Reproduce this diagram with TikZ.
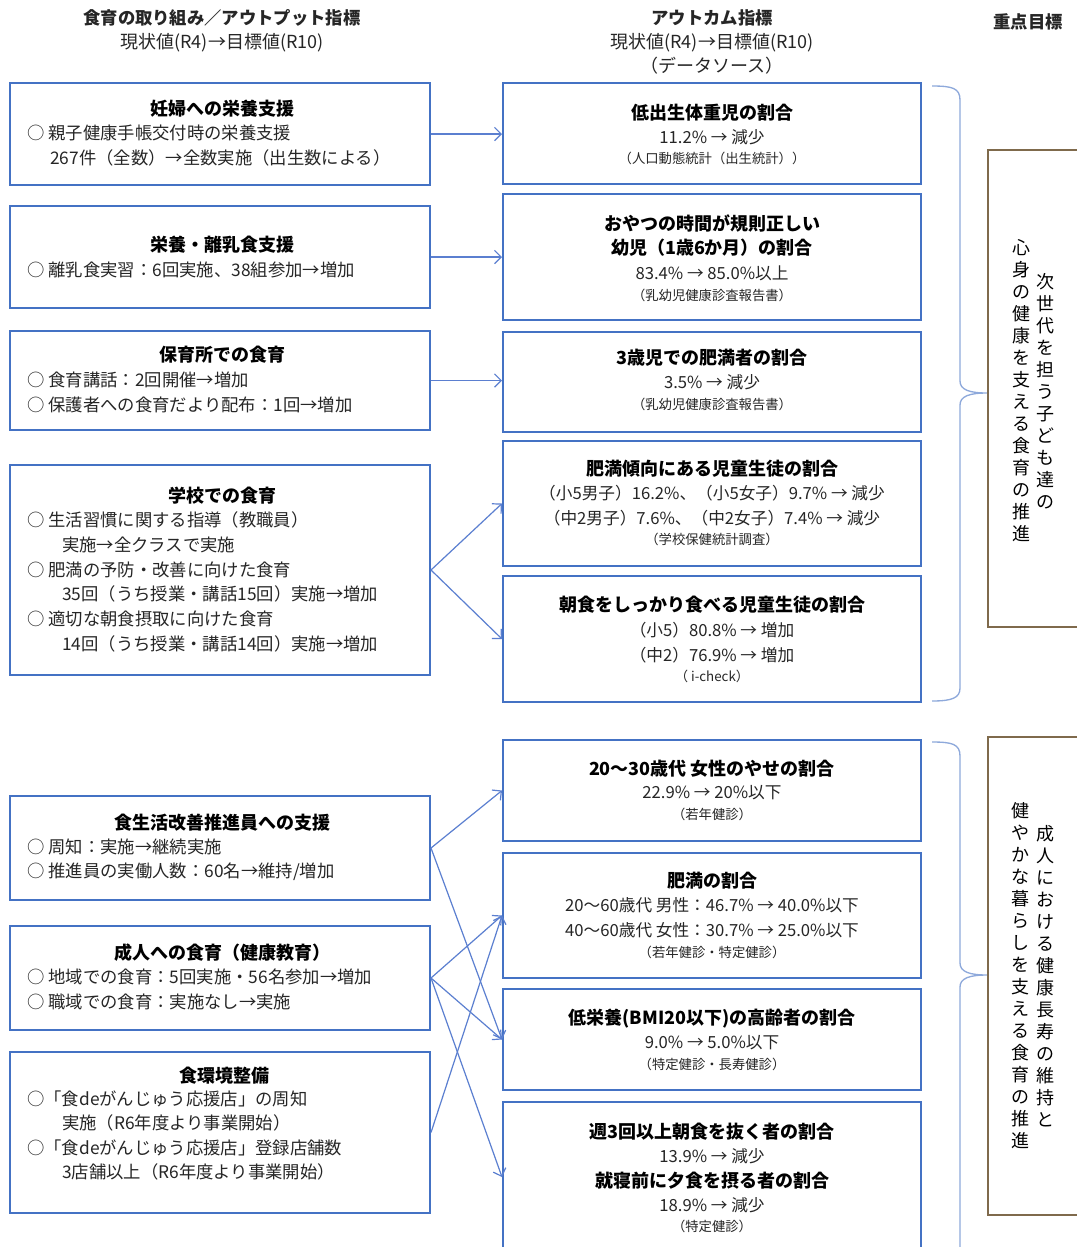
\documentclass[tikz,border=0pt]{standalone}
\usepackage{fontspec}
\setmainfont{Noto Sans CJK JP}
\usetikzlibrary{arrows.meta}
\definecolor{boxblue}{HTML}{4472C4}
\definecolor{arrblue}{HTML}{5B7FD0}
\definecolor{braceblue}{HTML}{8EA9DB}
\definecolor{goalbrown}{HTML}{7F6A4C}
\definecolor{txt}{HTML}{262626}
\tikzset{
 box/.style={draw=boxblue, line width=1.5pt, rectangle, inner sep=0pt, fill=white},
 goalbox/.style={draw=goalbrown, line width=1.5pt, rectangle, inner sep=0pt},
 conn/.style={draw=arrblue, line width=0.9pt, -{Straight Barb[length=5pt,width=10pt]}},
 brace/.style={draw=braceblue, line width=1pt},
 hdr/.style={inner sep=0pt, font=\bfseries\fontsize{13}{14}\selectfont, text=txt},
 hsub/.style={inner sep=0pt, font=\fontsize{13.5}{14}\selectfont, text=txt},
 ttl/.style={inner sep=0pt, font=\bfseries\fontsize{13.5}{14}\selectfont, text=black},
 bod/.style={inner sep=0pt, anchor=west, font=\fontsize{13}{14}\selectfont, text=txt},
 val/.style={inner sep=0pt, font=\fontsize{12.5}{14}\selectfont, text=txt},
 src/.style={inner sep=0pt, font=\fontsize{10}{11}\selectfont, text=txt},
 vert/.style={inner sep=0pt, align=center, font=\fontsize{13.5}{16.5}\selectfont, text=black},
}
\newcommand\mkbox[6]{\node[#1, minimum width={(#5-#3)*0.75pt}, minimum height={(#6-#4)*0.75pt}] (#2) at ({(#3+#5)/2},{(#4+#6)/2}) {};}
\begin{document}
\begin{tikzpicture}[x=0.75pt,y=-0.75pt]
\useasboundingbox[fill=white] (0,0) rectangle (1076,1247);

% headers
\node[hdr] (h1) at (222,18) {食育の取り組み／アウトプット指標};
\node[hsub] (h1s) at (222,43) {現状値(R4)→目標値(R10)};
\node[hdr] (h2) at (712,18) {アウトカム指標};
\node[hsub] (h2s) at (712,43) {現状値(R4)→目標値(R10)};
\node[hsub] (h2d) at (712,66) {（データソース）};
\node[hdr] (h3) at (1028,22) {重点目標};

% braces
\draw[brace] (932,86) .. controls (952,86) and (960,88) .. (960,100) -- (960,381) .. controls (960,390) and (970,393) .. (987,393) .. controls (970,393) and (960,396) .. (960,405) -- (960,688) .. controls (960,698) and (952,701) .. (932,701);
\draw[brace] (932,742) .. controls (952,742) and (960,744) .. (960,756) -- (960,963) .. controls (960,972) and (970,975) .. (987,975) .. controls (970,975) and (960,978) .. (960,987) -- (960,1250);

% goal boxes
\mkbox{goalbox}{G1}{988}{150}{1085}{627}
\mkbox{goalbox}{G2}{988}{737}{1085}{1215}
\node[vert] (g1a) at (1045,391) {次\\世\\代\\を\\担\\う\\子\\ど\\も\\達\\の};
\node[vert] (g1b) at (1021,391) {心\\身\\の\\健\\康\\を\\支\\え\\る\\食\\育\\の\\推\\進};
\node[vert] (g2a) at (1045,976) {成\\人\\に\\お\\け\\る\\健\\康\\長\\寿\\の\\維\\持\\と};
\node[vert] (g2b) at (1020,976) {健\\や\\か\\な\\暮\\ら\\し\\を\\支\\え\\る\\食\\育\\の\\推\\進};

% left boxes
\mkbox{box}{L1}{10}{83}{430}{185}
\mkbox{box}{L2}{10}{206}{430}{308}
\mkbox{box}{L3}{10}{331}{430}{430}
\mkbox{box}{L4}{10}{465}{430}{675}
\mkbox{box}{L5}{10}{796}{430}{900}
\mkbox{box}{L6}{10}{926}{430}{1030}
\mkbox{box}{L7}{10}{1052}{430}{1213}

% right boxes
\mkbox{box}{R1}{503}{83}{921}{184}
\mkbox{box}{R2}{503}{194}{921}{320}
\mkbox{box}{R3}{503}{332}{921}{432}
\mkbox{box}{R4}{503}{441}{921}{566}
\mkbox{box}{R5}{503}{576}{921}{702}
\mkbox{box}{R6}{503}{740}{921}{841}
\mkbox{box}{R7}{503}{853}{921}{978}
\mkbox{box}{R8}{503}{989}{921}{1090}
\mkbox{box}{R9}{503}{1102}{921}{1252}

% left texts
\node[ttl] (l1t) at (222,109) {妊婦への栄養支援};
\node[bod] (l1a) at (27,133) {○ 親子健康手帳交付時の栄養支援};
\node[bod] (l1b) at (50,158) {267件（全数）→全数実施（出生数による）};

\node[ttl] (l2t) at (222,245) {栄養・離乳食支援};
\node[bod] (l2a) at (27,270) {○ 離乳食実習：6回実施、38組参加→増加};

\node[ttl] (l3t) at (222,355) {保育所での食育};
\node[bod] (l3a) at (27,380) {○ 食育講話：2回開催→増加};
\node[bod] (l3b) at (27,405) {○ 保護者への食育だより配布：1回→増加};

\node[ttl] (l4t) at (222,496) {学校での食育};
\node[bod] (l4a) at (27,520) {○ 生活習慣に関する指導（教職員）};
\node[bod] (l4b) at (62,545) {実施→全クラスで実施};
\node[bod] (l4c) at (27,570) {○ 肥満の予防・改善に向けた食育};
\node[bod] (l4d) at (62,594) {35回（うち授業・講話15回）実施→増加};
\node[bod] (l4e) at (27,619) {○ 適切な朝食摂取に向けた食育};
\node[bod] (l4f) at (62,644) {14回（うち授業・講話14回）実施→増加};

\node[ttl] (l5t) at (222,823) {食生活改善推進員への支援};
\node[bod] (l5a) at (27,847) {○ 周知：実施→継続実施};
\node[bod] (l5b) at (27,872) {○ 推進員の実働人数：60名→維持/増加};

\node[ttl] (l6t) at (222,953) {成人への食育（健康教育）};
\node[bod] (l6a) at (27,977) {○ 地域での食育：5回実施・56名参加→増加};
\node[bod] (l6b) at (27,1002) {○ 職域での食育：実施なし→実施};

\node[ttl] (l7t) at (224,1076) {食環境整備};
\node[bod] (l7a) at (27,1099) {○「食deがんじゅう応援店」の周知};
\node[bod] (l7b) at (62,1123) {実施（R6年度より事業開始）};
\node[bod] (l7c) at (27,1148) {○「食deがんじゅう応援店」登録店舗数};
\node[bod] (l7d) at (62,1172) {3店舗以上（R6年度より事業開始）};

% right texts
\node[ttl] (r1t) at (712,113) {低出生体重児の割合};
\node[val] (r1a) at (712,137) {11.2\% → 減少};
\node[src] (r1s) at (712,158) {（人口動態統計（出生統計））};

\node[ttl] (r2t) at (712,223) {おやつの時間が規則正しい};
\node[ttl] (r2u) at (712,248) {幼児（1歳6か月）の割合};
\node[val] (r2a) at (712,273) {83.4\% → 85.0\%以上};
\node[src] (r2s) at (712,295) {（乳幼児健康診査報告書）};

\node[ttl] (r3t) at (712,358) {3歳児での肥満者の割合};
\node[val] (r3a) at (712,382) {3.5\% → 減少};
\node[src] (r3s) at (712,404) {（乳幼児健康診査報告書）};

\node[ttl] (r4t) at (712,469) {肥満傾向にある児童生徒の割合};
\node[val] (r4a) at (712,493) {（小5男子）16.2\%、（小5女子）9.7\% → 減少};
\node[val] (r4b) at (712,518) {（中2男子）7.6\%、（中2女子）7.4\% → 減少};
\node[src] (r4s) at (712,539) {（学校保健統計調査）};

\node[ttl] (r5t) at (712,605) {朝食をしっかり食べる児童生徒の割合};
\node[val] (r5a) at (712,630) {（小5）80.8\% → 増加};
\node[val] (r5b) at (712,655) {（中2）76.9\% → 増加};
\node[src] (r5s) at (712,676) {（ i-check）};

\node[ttl] (r6t) at (712,769) {20～30歳代 女性のやせの割合};
\node[val] (r6a) at (712,793) {22.9\% → 20\%以下};
\node[src] (r6s) at (712,814) {（若年健診）};

\node[ttl] (r7t) at (712,881) {肥満の割合};
\node[val] (r7a) at (712,905) {20～60歳代 男性：46.7\% → 40.0\%以下};
\node[val] (r7b) at (712,930) {40～60歳代 女性：30.7\% → 25.0\%以下};
\node[src] (r7s) at (712,952) {（若年健診・特定健診）};

\node[ttl] (r8t) at (712,1019) {低栄養(BMI20以下)の高齢者の割合};
\node[val] (r8a) at (712,1043) {9.0\% → 5.0\%以下};
\node[src] (r8s) at (712,1064) {（特定健診・長寿健診）};

\node[ttl] (r9t) at (712,1132) {週3回以上朝食を抜く者の割合};
\node[val] (r9a) at (712,1156) {13.9\% → 減少};
\node[ttl] (r9u) at (712,1181) {就寝前に夕食を摂る者の割合};
\node[val] (r9b) at (712,1205) {18.9\% → 減少};
\node[src] (r9s) at (712,1226) {（特定健診）};

% connectors
\draw[conn] (L1.east) -- (L1.east -| R1.west);
\draw[conn] (L2.east) -- (L2.east -| R2.west);
\draw[conn] (L3.east) -- (L3.east -| R3.west);
\draw[conn] (L4.east) -- (R4.west);
\draw[conn] (L4.east) -- (R5.west);
\draw[conn] (L5.east) -- (R6.west);
\draw[conn] (L5.east) -- (R8.west);
\draw[conn] (L6.east) -- (R7.west);
\draw[conn] (L6.east) -- (R8.west);
\draw[conn] (L6.east) -- (R9.west);
\draw[conn] (L7.east) -- (R7.west);
\end{tikzpicture}
\end{document}
